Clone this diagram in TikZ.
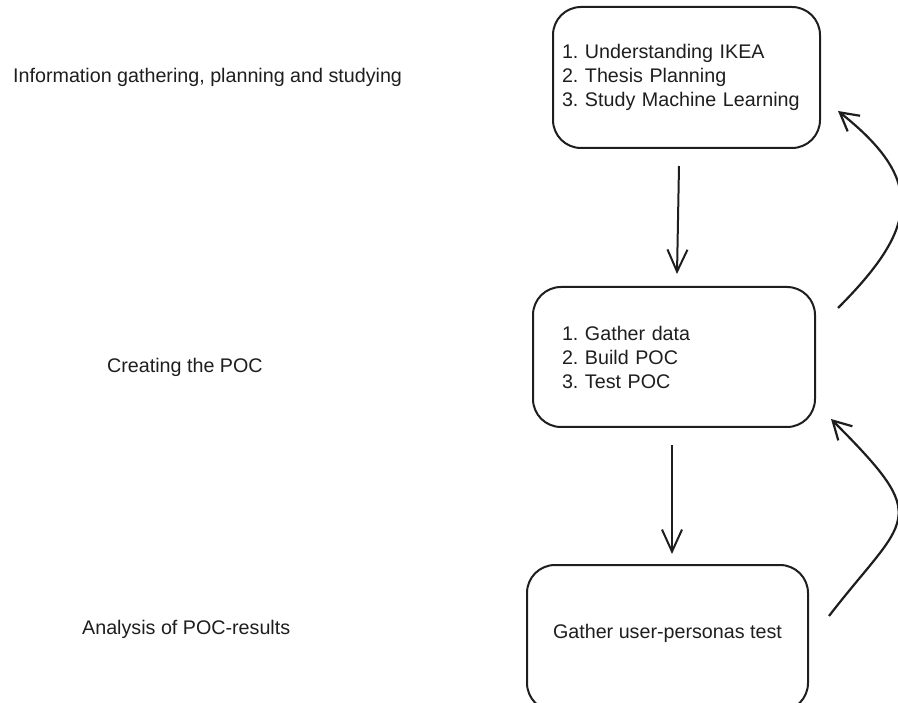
\documentclass[tikz,border=0pt]{standalone}
\usepackage{fontspec}
\setmainfont{Liberation Sans}
\usepackage{tikz}
\usetikzlibrary{arrows.meta}
\definecolor{ink}{HTML}{1E1E1E}
\frenchspacing

\begin{document}
\begin{tikzpicture}[x=1pt, y=-1pt, every node/.style={text=ink, font=\fontsize{19.7}{24}\selectfont},
  stage/.style={draw=ink, line width=2pt, rounded corners=28pt, inner xsep=0pt},
  phase/.style={anchor=base west, inner sep=0pt},
  flow/.style={draw=ink, line width=2pt, -{Straight Barb[length=22pt, width=20pt, line width=2pt]}},
  loop/.style={draw=ink, line width=2.2pt, -{Straight Barb[length=18pt, width=20pt, line width=2.2pt]}}]
  \useasboundingbox (0,0) rectangle (898,703);
  % phases on the left
  \node [phase] (info) at (13, 83) {Information gathering, planning and studying};
  \node [phase] (poc) at (107, 373) {Creating the POC};
  \node [phase] (analysis) at (82, 634) {Analysis of POC-results};
  % stages on the right
  \node [stage, minimum width=267pt, minimum height=141pt, text width=249pt, align=left] (study) at (686.5, 77.5)
    {1. Understanding IKEA\\2. Thesis Planning\\3. Study Machine Learning};
  \node [stage, minimum width=282pt, minimum height=140pt, text width=224pt, align=left] (build) at (674, 357)
    {1. Gather data\\2. Build POC\\3. Test POC};
  \node [stage, minimum width=281pt, minimum height=146pt, text depth=14pt, align=center] (test) at (667.5, 638)
    {Gather user-personas test};
  \draw [flow] ([xshift=-7.5pt, yshift=-17pt]study.south) -- ([xshift=3pt, yshift=12pt]build.north);
  \draw [flow] ([xshift=-2pt, yshift=-17pt]build.south) -- ([xshift=4.5pt, yshift=10pt]test.north);
  \draw [loop] ([xshift=22pt, yshift=49pt]build.east) .. controls +(81,-81) and +(87,69) .. ([xshift=17pt, yshift=-33.5pt]study.east);
  \draw [loop] ([xshift=20pt, yshift=22pt]test.east) .. controls +(78,-101) and +(103,103) .. ([xshift=15pt, yshift=-62pt]build.east);
\end{tikzpicture}
\end{document}
